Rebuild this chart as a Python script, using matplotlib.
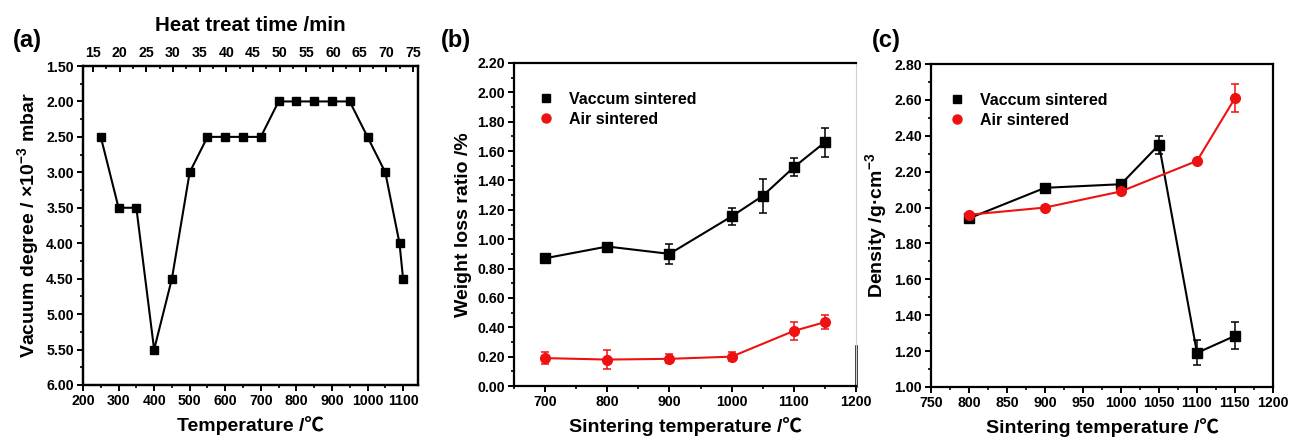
import matplotlib
matplotlib.use("Agg")
import matplotlib.pyplot as plt
from matplotlib.ticker import MultipleLocator, FormatStrFormatter
from matplotlib.lines import Line2D

plt.rcParams['font.family'] = ['Liberation Sans', 'Noto Sans CJK SC', 'DejaVu Sans']
plt.rcParams['font.weight'] = 'bold'
plt.rcParams['mathtext.fontset'] = 'custom'
plt.rcParams['mathtext.rm'] = 'Liberation Sans:bold'
plt.rcParams['mathtext.default'] = 'rm'

# ---------- data (a) ----------
temp_a = [250, 300, 350, 400, 450, 500, 550, 600, 650, 700, 750, 800, 850,
          900, 950, 1000, 1050, 1090, 1100]
vacuum_a = [2.5, 3.5, 3.5, 5.5, 4.5, 3.0, 2.5, 2.5, 2.5, 2.5, 2.0, 2.0, 2.0,
            2.0, 2.0, 2.5, 3.0, 4.0, 4.5]

# ---------- data (b) ----------
temp_b_vac = [700, 800, 900, 1000, 1050, 1100, 1150]
wl_vac = [0.87, 0.95, 0.90, 1.155, 1.295, 1.49, 1.66]
wl_vac_err = [0.02, 0.01, 0.07, 0.06, 0.115, 0.06, 0.10]
temp_b_air = [700, 800, 900, 1000, 1100, 1150]
wl_air = [0.19, 0.18, 0.185, 0.20, 0.375, 0.435]
wl_air_err = [0.04, 0.065, 0.03, 0.03, 0.06, 0.05]

# ---------- data (c) ----------
temp_c_vac = [800, 900, 1000, 1050, 1100, 1150]
dens_vac = [1.94, 2.11, 2.13, 2.35, 1.19, 1.285]
dens_vac_err = [0.01, 0.01, 0.01, 0.05, 0.07, 0.075]
temp_c_air = [800, 900, 1000, 1100, 1150]
dens_air = [1.96, 2.00, 2.09, 2.26, 2.61]
dens_air_err = [0.01, 0.01, 0.01, 0.01, 0.08]

series_labels = ['Vaccum sintered', 'Air sintered']

W, H = 1290, 438
fig = plt.figure(figsize=(W / 100, H / 100), dpi=100)

RED = '#ee1111'


def box(l, r, t, b):
    return [l / W, 1 - b / H, (r - l) / W, (b - t) / H]


TICK_FS = 10.2
LABEL_FS = 14


def style(ax):
    for s in ax.spines.values():
        s.set_linewidth(1.6)
    ax.tick_params(which='major', direction='out', length=4.5, width=1.4,
                   labelsize=TICK_FS, pad=2)
    ax.tick_params(which='minor', direction='out', length=2.5, width=1.2)
    ax.tick_params(top=False, right=False, which='both')
    for lab in ax.get_xticklabels() + ax.get_yticklabels():
        lab.set_fontweight('bold')


def legend(ax, anchor):
    handles = [Line2D([], [], ls='none', marker='s', color='black', ms=5.5),
               Line2D([], [], ls='none', marker='o', color=RED, ms=6.5)]
    ax.legend(handles, series_labels, loc='upper left', bbox_to_anchor=anchor,
              frameon=False, prop={'weight': 'bold', 'size': 11.5},
              handlelength=0.8, handletextpad=1.0, labelspacing=0.3,
              borderaxespad=0)


# ---------------- panel (a) ----------------
axa = fig.add_axes(box(83, 418, 66, 385))
axa.plot(temp_a, vacuum_a, '-s', color='black', lw=1.5, ms=5.5)
axa.set_xlim(200, 1142)
axa.set_ylim(6.0, 1.5)
axa.xaxis.set_major_locator(MultipleLocator(100))
axa.xaxis.set_minor_locator(MultipleLocator(50))
axa.yaxis.set_major_locator(MultipleLocator(0.5))
axa.yaxis.set_minor_locator(MultipleLocator(0.25))
axa.yaxis.set_major_formatter(FormatStrFormatter('%.2f'))
style(axa)
axa.set_xlabel('Temperature /℃', fontsize=LABEL_FS, fontweight='bold', labelpad=6)
axa.set_ylabel(r'Vacuum degree / ×10$^{-3}$ mbar', fontsize=LABEL_FS,
               fontweight='bold', labelpad=4)

axt = axa.twiny()
axt.set_xlim(200 / 15 - 0.2, 1142 / 15 - 0.2)
axt.xaxis.set_major_locator(MultipleLocator(5))
axt.xaxis.set_minor_locator(MultipleLocator(2.5))
axt.tick_params(axis='x', which='major', direction='in', length=4.5, width=1.4,
                labelsize=TICK_FS, pad=4)
axt.tick_params(axis='x', which='minor', direction='in', length=2.5, width=1.2)
for lab in axt.get_xticklabels():
    lab.set_fontweight('bold')
for s in axt.spines.values():
    s.set_linewidth(1.6)
axt.set_xlabel('Heat treat time /min', fontsize=14.8, fontweight='bold', labelpad=11)

# ---------------- panel (b) ----------------
axb = fig.add_axes(box(514, 856, 63, 386))
axb.errorbar(temp_b_vac, wl_vac, yerr=wl_vac_err, fmt='-s', color='black',
             lw=1.5, ms=6.5, elinewidth=1.1, capsize=3, capthick=1.1)
axb.errorbar(temp_b_air, wl_air, yerr=wl_air_err, fmt='-o', color=RED,
             lw=1.5, ms=7, elinewidth=1.1, capsize=3, capthick=1.1)
axb.set_xlim(650, 1200)
axb.set_ylim(0, 2.2)
axb.xaxis.set_major_locator(MultipleLocator(100))
axb.xaxis.set_minor_locator(MultipleLocator(50))
axb.yaxis.set_major_locator(MultipleLocator(0.2))
axb.yaxis.set_minor_locator(MultipleLocator(0.1))
axb.yaxis.set_major_formatter(FormatStrFormatter('%.2f'))
style(axb)
axb.spines['right'].set_color('#d0d0d0')
axb.spines['right'].set_linewidth(0.8)
axb.axvline(1200, ymin=0, ymax=0.123, color='black', lw=1.8, clip_on=False)
axb.set_xlabel('Sintering temperature /℃', fontsize=LABEL_FS, fontweight='bold', labelpad=6)
axb.set_ylabel('Weight loss ratio /%', fontsize=LABEL_FS, fontweight='bold', labelpad=4)
legend(axb, (0.057, 0.93))

# ---------------- panel (c) ----------------
axc = fig.add_axes(box(931, 1273, 64, 387))
axc.errorbar(temp_c_vac, dens_vac, yerr=dens_vac_err, fmt='-s', color='black',
             lw=1.5, ms=6.5, elinewidth=1.1, capsize=3, capthick=1.1)
axc.errorbar(temp_c_air, dens_air, yerr=dens_air_err, fmt='-o', color=RED,
             lw=1.5, ms=7, elinewidth=1.1, capsize=3, capthick=1.1)
axc.set_xlim(750, 1200)
axc.set_ylim(1.0, 2.8)
axc.xaxis.set_major_locator(MultipleLocator(50))
axc.xaxis.set_minor_locator(MultipleLocator(25))
axc.yaxis.set_major_locator(MultipleLocator(0.2))
axc.yaxis.set_minor_locator(MultipleLocator(0.1))
axc.yaxis.set_major_formatter(FormatStrFormatter('%.2f'))
style(axc)
axc.set_xlabel('Sintering temperature /℃', fontsize=LABEL_FS, fontweight='bold', labelpad=6)
axc.set_ylabel(r'Density /g·cm$^{-3}$', fontsize=LABEL_FS, fontweight='bold', labelpad=4)
legend(axc, (0.04, 0.93))

# panel letters
for txt, x in [('(a)', 27), ('(b)', 456), ('(c)', 886)]:
    fig.text(x / W, 1 - 40 / H, txt, fontsize=17, fontweight='bold',
             ha='center', va='center')

fig.savefig('out.png', dpi=100)
